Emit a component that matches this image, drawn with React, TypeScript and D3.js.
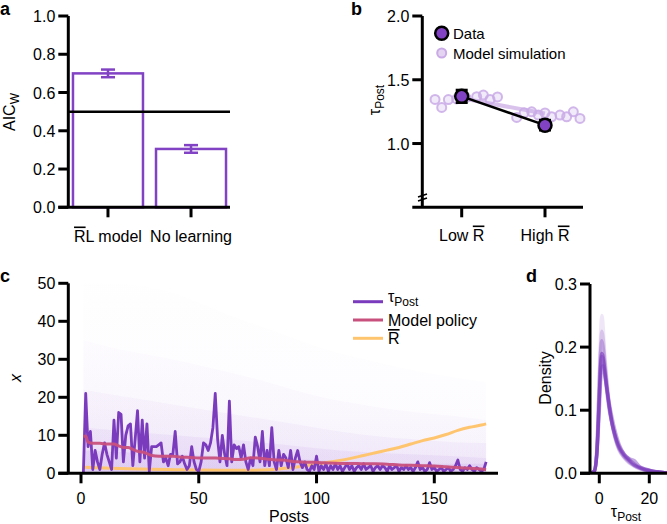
import React from 'react';
import * as d3 from 'd3';

const FONT = '"Liberation Sans", Arial, Helvetica, sans-serif';
const PURPLE = '#8242c4';
const LINE_PURPLE = '#7b3bbd';
const RED = '#c8507c';
const ORANGE = '#ffc46e';
const SIM = '#c9aae6';

// panel a
const modelNames = ['RL model', 'No learning'];
const aicW = [0.7, 0.305];
const aicErr = [0.02, 0.02];
const aTicks = [0, 0.2, 0.4, 0.6, 0.8, 1.0];

// panel b
const rewardCats = ['Low', 'High'];
const dataTau = [1.37, 1.144];
const dataErr = [0.05, 0.04];
const modelMean = [1.355, 1.235];
const simX = [-0.32, -0.24, -0.16, -0.06, 0.05, 0.18, 0.26, 0.34, 0.43,
  0.66, 0.75, 0.84, 0.92, 1.0, 1.08, 1.18, 1.26, 1.34, 1.42];
const simY = [1.346, 1.283, 1.345, 1.35, 1.36, 1.367, 1.38, 1.346, 1.365,
  1.205, 1.241, 1.249, 1.223, 1.24, 1.21, 1.223, 1.21, 1.249, 1.197];
const bTicks = [1.0, 1.5, 2.0];

// panel c
const tauPost = [0, 21, 7, 11, 1, 6, 3, 1, 5, 8,
  5, 3, 1, 14, 4, 16, 15.5, 3, 10, 12.5,
  13, 2, 9, 16.5, 3, 14, 4, 13, 0.5, 7,
  7, 7, 7.5, 8, 3, 4, 2, 5, 5, 11,
  2.5, 3, 4.5, 2.5, 1, 2, 7, 3, 1, 0.5,
  3, 8, 7.5, 6, 8, 12, 21, 9, 3, 10,
  5, 2, 19, 3, 7.5, 6.5, 7, 4, 7.5, 3,
  1, 4, 2, 9.5, 7, 3, 11, 2, 6, 2,
  12, 3, 1, 6, 2, 5, 4, 1.5, 6, 1,
  4, 6, 3, 1.5, 3, 1, 0.5, 2, 1, 4.5,
  0.5, 2, 1, 2.5, 0.5, 2, 1, 2.5,
  1, 2, 0.5, 1.5, 2.5, 1, 2, 0.5, 1.5, 2,
  1, 2.5, 1, 1.5, 2, 0.5, 1.5, 2, 1, 2,
  1.5, 0.5, 2, 1, 1.5, 2, 0.5, 1.5, 1, 2,
  1, 1.5, 0.5, 1.5, 3, 1, 1.5, 0.5, 1, 2.8,
  1, 1.5, 0.5, 1, 1.5, 0.5, 1, 1.5, 0.5, 1,
  2, 3.5, 1, 0.5, 1.5, 1, 2, 1, 0.5, 1.5,
  1, 0.5, 1, 3];
const policyPosts = [1, 2, 3, 5, 8, 11, 14, 16, 18, 20, 22, 24, 26, 28, 30, 33, 36, 39, 42, 45,
  48, 51, 54, 57, 60, 63, 66, 69, 72, 75, 78, 81, 84, 87, 90, 93, 96, 99, 102, 105,
  110, 115, 120, 125, 130, 135, 140, 145, 150, 155, 160, 165, 170, 172];
const policyVals = [9.7, 9.8, 8.2, 7.9, 7.9, 7.7, 7.7, 7.2, 6.8, 6.8, 6.3, 5.8, 5.6, 5.2, 4.7, 4.5, 4.5, 4.5, 4.3, 4.2,
  4.1, 4.0, 4.0, 4.0, 3.9, 3.8, 3.6, 3.7, 4.1, 4.0, 3.8, 3.6, 3.5, 3.4, 3.1, 3.0, 2.9, 2.9, 2.8, 2.7,
  2.6, 2.6, 2.5, 2.5, 2.4, 2.2, 2.1, 2.0, 1.9, 1.7, 1.5, 1.3, 1.1, 1.0];
const rBarPosts = [1, 10, 20, 30, 40, 50, 60, 70, 80, 85, 90, 95, 100, 105, 110, 115, 120, 125, 130, 135,
  140, 145, 150, 155, 160, 165, 170, 172];
const rBarVals = [1.6, 1.4, 1.2, 1.05, 0.95, 0.85, 0.8, 0.8, 0.95, 1.2, 1.5, 1.9, 2.4, 2.9, 3.4, 4.0, 4.7, 5.4, 6.1, 6.8,
  7.7, 8.6, 9.3, 10.2, 11.3, 12.1, 12.7, 13.0];
// simulated trajectories, envelope levels
const cloudPosts = [1, 20, 40, 60, 80, 100, 120, 140, 160, 172];
const cloudLevels = [
  [50, 50, 48, 42, 38, 33, 30, 27, 25, 24],
  [35, 32, 30, 27, 24, 20, 18, 16, 15, 14],
  [22, 20, 18, 16, 14, 12, 10, 9, 8, 8],
  [12, 11, 10, 9, 8, 6.5, 5.5, 5, 4.5, 4],
  [6, 5.5, 5, 4.5, 4, 3.5, 3, 2.5, 2.5, 2.5],
];
const cloudAlpha = [0.035, 0.045, 0.07, 0.09, 0.1];
const cTicksX = [0, 50, 100, 150];
const cTicksY = [0, 10, 20, 30, 40, 50];

// panel d
const densX = [-3.5, -2, -1, 0, 0.5, 1, 1.5, 2, 3, 4, 5, 6, 7, 8, 10, 12, 14, 16, 18, 20, 22, 24, 26, 28];
const densCurves = [
  [0, 0.003, 0.03, 0.12, 0.17, 0.19, 0.185, 0.17, 0.135, 0.105, 0.082, 0.064, 0.05, 0.04, 0.028, 0.02, 0.013, 0.009, 0.006, 0.004, 0.003, 0.002, 0.001, 0.0005],
  [0, 0.004, 0.04, 0.16, 0.22, 0.25, 0.235, 0.2, 0.15, 0.11, 0.082, 0.062, 0.047, 0.036, 0.024, 0.016, 0.011, 0.007, 0.005, 0.003, 0.002, 0.001, 0.0008, 0.0003],
  [0, 0.004, 0.03, 0.1, 0.145, 0.168, 0.17, 0.16, 0.135, 0.11, 0.09, 0.072, 0.057, 0.045, 0.03, 0.022, 0.015, 0.01, 0.007, 0.005, 0.003, 0.002, 0.001, 0.0005],
  [0, 0.003, 0.035, 0.14, 0.19, 0.21, 0.2, 0.18, 0.14, 0.105, 0.08, 0.062, 0.048, 0.038, 0.026, 0.018, 0.012, 0.008, 0.005, 0.004, 0.002, 0.0015, 0.001, 0.0004],
  [0, 0.003, 0.03, 0.12, 0.165, 0.185, 0.18, 0.165, 0.13, 0.1, 0.08, 0.065, 0.052, 0.042, 0.03, 0.023, 0.02, 0.011, 0.007, 0.005, 0.003, 0.002, 0.001, 0.0005],
  [0, 0.004, 0.038, 0.15, 0.2, 0.225, 0.215, 0.19, 0.145, 0.108, 0.08, 0.06, 0.046, 0.036, 0.025, 0.017, 0.012, 0.008, 0.005, 0.003, 0.002, 0.001, 0.0008, 0.0003],
];
const densAlpha = [0.6, 0.12, 0.45, 0.3, 0.45, 0.2];
const dTicksX = [0, 20];
const dTicksY = [0, 0.1, 0.2, 0.3];

const TICK = 10;
const FS = 16;

const YAxis = ({ x, y, ticks, fmt, y0, y1 }: any) => (
  <g>
    <line x1={x} x2={x} y1={y0} y2={y1} stroke="#000" strokeWidth={3} />
    {ticks.map((t: number) => (
      <g key={t}>
        <line x1={x - TICK} x2={x} y1={y(t)} y2={y(t)} stroke="#000" strokeWidth={3} />
        <text x={x - TICK - 3} y={y(t) + 6} textAnchor="end" fontSize={FS}>{fmt(t)}</text>
      </g>
    ))}
  </g>
);

const Overbar = ({ children }: any) => (
  <tspan style={{ textDecoration: 'overline' }}>{children}</tspan>
);

export default function App() {
  // ---- a
  const ya = d3.scaleLinear().domain([0, 1]).range([207.3, 16]);
  const xa = d3.scaleBand<string>().domain(modelNames).range([66.5, 232.5]).paddingInner(0.157).paddingOuter(0.078);

  // ---- b
  const xb = d3.scaleLinear().domain([0, 1]).range([461.7, 545]);
  const yb = d3.scaleLinear().domain([0.5, 2.0]).range([207.3, 16]);

  // ---- c
  const xc = d3.scaleLinear().domain([0, 150]).range([81, 434.3]);
  const yc = d3.scaleLinear().domain([0, 50]).range([473.3, 283.3]);
  const tauLine = d3.line<number>().x((d, i) => xc(i + 1)).y(d => yc(d));
  const smooth = (xs: number[]) => d3.line<number>().x((d, i) => xc(xs[i])).y(d => yc(d)).curve(d3.curveMonotoneX);
  const cloudArea = d3.area<number>().x((d, i) => xc(cloudPosts[i])).y0(yc(0)).y1(d => yc(d)).curve(d3.curveBasis);

  // ---- d
  const xd = d3.scaleLinear().domain([0, 20]).range([599.3, 649.3]);
  const yd = d3.scaleLinear().domain([0, 0.3]).range([473.3, 284]);
  const densLine = d3.line<number>().x((d, i) => xd(densX[i])).y(d => yd(d)).curve(d3.curveMonotoneX);

  const capW = 7;

  return (
    <svg width={667} height={524} style={{ position: 'absolute', left: 0, top: 0, fontFamily: FONT }}>
      <defs>
        <clipPath id="clipd"><rect x={590} y={270} width={77} height={204} /></clipPath>
        <clipPath id="clipc"><rect x={70} y={270} width={440} height={203.5} /></clipPath>
        <linearGradient id="fade" gradientUnits="userSpaceOnUse" x1={0} x2={0} y1={yc(0)} y2={yc(50)}>
          <stop offset="0" stopColor="#9356d4" stopOpacity={1} />
          <stop offset="0.35" stopColor="#9356d4" stopOpacity={0.6} />
          <stop offset="1" stopColor="#9356d4" stopOpacity={0.1} />
        </linearGradient>
      </defs>
      <rect width={667} height={524} fill="#fff" />

      {/* panel letters */}
      <g fontWeight="bold" fontSize={18}>
        <text x={0} y={15}>a</text>
        <text x={351} y={15}>b</text>
        <text x={0} y={282}>c</text>
        <text x={526} y={282}>d</text>
      </g>

      {/* ===== panel a ===== */}
      {modelNames.map((m, i) => (
        <g key={m}>
          <rect x={xa(m)} y={ya(aicW[i])} width={xa.bandwidth()} height={ya(0) - ya(aicW[i])}
            fill="none" stroke={PURPLE} strokeWidth={2.5} />
          <line x1={xa(m)! + xa.bandwidth() / 2} x2={xa(m)! + xa.bandwidth() / 2}
            y1={ya(aicW[i] - aicErr[i])} y2={ya(aicW[i] + aicErr[i])} stroke={PURPLE} strokeWidth={2.5} />
          {[-1, 1].map(s => (
            <line key={s} x1={xa(m)! + xa.bandwidth() / 2 - capW} x2={xa(m)! + xa.bandwidth() / 2 + capW}
              y1={ya(aicW[i] + s * aicErr[i])} y2={ya(aicW[i] + s * aicErr[i])} stroke={PURPLE} strokeWidth={2.5} />
          ))}
        </g>
      ))}
      <line x1={68.3} x2={230} y1={ya(0.5)} y2={ya(0.5)} stroke="#000" strokeWidth={2.5} />
      <YAxis x={68.3} y={ya} ticks={aTicks} fmt={d3.format('.1f')} y0={ya(1)} y1={ya(0)} />
      <line x1={68.3 - TICK} x2={230} y1={ya(0)} y2={ya(0)} stroke="#000" strokeWidth={3} />
      {modelNames.map((m, i) => {
        const cx = xa(m)! + xa.bandwidth() / 2;
        return (
          <g key={m}>
            <line x1={cx} x2={cx} y1={ya(0)} y2={ya(0) + TICK} stroke="#000" strokeWidth={3} />
            <text x={cx} y={241.5} textAnchor="middle" fontSize={FS}>
              {i === 0 ? <><Overbar>R</Overbar>L model</> : m}
            </text>
          </g>
        );
      })}
      <text transform="translate(15,112) rotate(-90)" textAnchor="middle" fontSize={FS}>
        AIC<tspan dy={4} fontSize={12}>W</tspan>
      </text>

      {/* ===== panel b ===== */}
      <line x1={xb(0)} x2={xb(1)} y1={yb(modelMean[0])} y2={yb(modelMean[1])} stroke={SIM} strokeWidth={4} opacity={0.7} />
      {simX.map((sx, i) => (
        <circle key={i} cx={xb(sx)} cy={yb(simY[i])} r={4.5} fill={SIM} fillOpacity={0.25}
          stroke={SIM} strokeWidth={2} strokeOpacity={0.85} />
      ))}
      <line x1={xb(0)} x2={xb(1)} y1={yb(dataTau[0])} y2={yb(dataTau[1])} stroke="#000" strokeWidth={2.5} />
      {rewardCats.map((c, i) => (
        <g key={c}>
          <line x1={xb(i)} x2={xb(i)} y1={yb(dataTau[i] - dataErr[i])} y2={yb(dataTau[i] + dataErr[i])} stroke="#000" strokeWidth={2.5} />
          {[-1, 1].map(s => (
            <line key={s} x1={xb(i) - 6} x2={xb(i) + 6} y1={yb(dataTau[i] + s * dataErr[i])} y2={yb(dataTau[i] + s * dataErr[i])} stroke="#000" strokeWidth={2.5} />
          ))}
          <circle cx={xb(i)} cy={yb(dataTau[i])} r={6.5} fill={PURPLE} stroke="#000" strokeWidth={2.5} />
        </g>
      ))}
      <YAxis x={422.3} y={yb} ticks={bTicks} fmt={d3.format('.1f')} y0={yb(2)} y1={yb(0.5)} />
      <line x1={418} x2={427} y1={197} y2={194} stroke="#000" strokeWidth={1.5} />
      <line x1={418} x2={427} y1={201} y2={198} stroke="#000" strokeWidth={1.5} />
      <line x1={422.3 - TICK} x2={583} y1={yb(0.5)} y2={yb(0.5)} stroke="#000" strokeWidth={3} />
      {rewardCats.map((c, i) => (
        <g key={c}>
          <line x1={xb(i)} x2={xb(i)} y1={yb(0.5)} y2={yb(0.5) + TICK} stroke="#000" strokeWidth={3} />
          <text x={xb(i)} y={240.5} textAnchor="middle" fontSize={FS}>{c} <Overbar>R</Overbar></text>
        </g>
      ))}
      <text transform="translate(380,100) rotate(-90)" textAnchor="middle" fontSize={FS}>
        τ<tspan dy={4} fontSize={12}>Post</tspan>
      </text>
      <circle cx={441.7} cy={33.3} r={6.5} fill={PURPLE} stroke="#000" strokeWidth={2.5} />
      <text x={453} y={38.5} fontSize={15}>Data</text>
      <circle cx={441.7} cy={53} r={4.5} fill={SIM} fillOpacity={0.5} stroke={SIM} strokeWidth={2} />
      <text x={453} y={58.5} fontSize={15}>Model simulation</text>

      {/* ===== panel c ===== */}
      <g clipPath="url(#clipc)">
        {cloudLevels.map((lv, k) => (
          <path key={k} d={cloudArea(lv)!} fill="url(#fade)" fillOpacity={cloudAlpha[k]} />
        ))}
      </g>
      <path d={smooth(rBarPosts)(rBarVals)!} fill="none" stroke={ORANGE} strokeWidth={3} />
      <path d={tauLine(tauPost)!} fill="none" stroke={LINE_PURPLE} strokeWidth={2.8} strokeLinejoin="round" />
      <path d={smooth(policyPosts)(policyVals)!} fill="none" stroke={RED} strokeWidth={3} opacity={0.95} />
      <YAxis x={68.3} y={yc} ticks={cTicksY} fmt={d3.format('d')} y0={yc(50)} y1={yc(0)} />
      <line x1={68.3 - TICK} x2={498} y1={yc(0)} y2={yc(0)} stroke="#000" strokeWidth={3} />
      {cTicksX.map(t => (
        <g key={t}>
          <line x1={xc(t)} x2={xc(t)} y1={yc(0)} y2={yc(0) + TICK} stroke="#000" strokeWidth={3} />
          <text x={xc(t)} y={503.5} textAnchor="middle" fontSize={FS}>{t}</text>
        </g>
      ))}
      <text x={289} y={522} textAnchor="middle" fontSize={FS}>Posts</text>
      <text transform="translate(21,378) rotate(-90)" textAnchor="middle" fontSize={FS} fontStyle="italic">x</text>
      {[LINE_PURPLE, RED, ORANGE].map((col, i) => (
        <line key={col} x1={353} x2={383} y1={301.7 + i * 18.3} y2={301.7 + i * 18.3} stroke={col} strokeWidth={3} />
      ))}
      <text x={388} y={302} fontSize={16}>τ<tspan dy={4} fontSize={12}>Post</tspan></text>
      <text x={388} y={325.5} fontSize={16}>Model policy</text>
      <text x={388} y={344} fontSize={16}><Overbar>R</Overbar></text>

      {/* ===== panel d ===== */}
      <g clipPath="url(#clipd)">
        {densCurves.map((c, i) => (
          <path key={i} d={densLine(c)!} fill="none" stroke={LINE_PURPLE} strokeWidth={3.5} strokeOpacity={densAlpha[i]} />
        ))}
      </g>
      <YAxis x={590} y={yd} ticks={dTicksY} fmt={d3.format('.1f')} y0={yd(0.3)} y1={yd(0)} />
      <line x1={590 - TICK} x2={667} y1={yd(0)} y2={yd(0)} stroke="#000" strokeWidth={3} />
      {dTicksX.map(t => (
        <g key={t}>
          <line x1={xd(t)} x2={xd(t)} y1={yd(0)} y2={yd(0) + TICK} stroke="#000" strokeWidth={3} />
          <text x={xd(t)} y={503.5} textAnchor="middle" fontSize={FS}>{t}</text>
        </g>
      ))}
      <text x={626} y={517} textAnchor="middle" fontSize={FS}>τ<tspan dy={4} fontSize={12}>Post</tspan></text>
      <text transform="translate(551,378) rotate(-90)" textAnchor="middle" fontSize={FS}>Density</text>
    </svg>
  );
}
